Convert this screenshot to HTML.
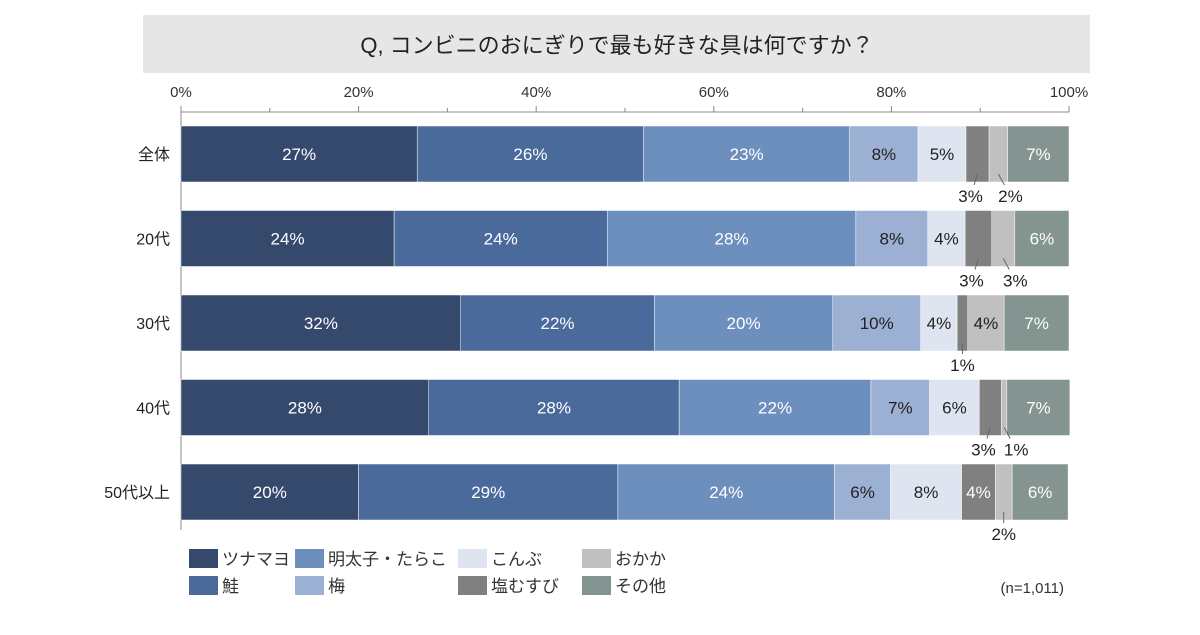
<!DOCTYPE html>
<html><head><meta charset="utf-8"><style>
body{margin:0;background:#fff;width:1200px;height:630px;overflow:hidden;font-family:"Liberation Sans","Noto Sans CJK JP",sans-serif;}
svg text{font-family:"Liberation Sans","Noto Sans CJK JP",sans-serif;}
</style></head><body>
<svg id="chart" width="1200" height="630" xmlns="http://www.w3.org/2000/svg">
<rect x="143" y="15" width="947" height="58" fill="#e6e6e6"/>
<text x="617" y="53" font-size="22" text-anchor="middle" fill="#222">Q, コンビニのおにぎりで最も好きな具は何ですか？</text>
<g id="axis"></g><g id="bars"></g><g id="legend"></g>
<text x="1064" y="593" font-size="15" text-anchor="end" fill="#333">(n=1,011)</text>
</svg>
<script>
const categories = ["全体","20代","30代","40代","50代以上"];
const seriesNames = ["ツナマヨ","鮭","明太子・たらこ","梅","こんぶ","塩むすび","おかか","その他"];
const tsunamayo = [26.6,24.0,31.5,27.9,20.0];
const sake = [25.5,24.0,21.8,28.2,29.2];
const mentaiko = [23.2,28.0,20.1,21.6,24.4];
const ume = [7.7,8.1,9.9,6.6,6.3];
const konbu = [5.4,4.2,4.1,5.6,8.0];
const shio = [2.6,3.0,1.2,2.5,3.8];
const okaka = [2.1,2.6,4.1,0.6,1.9];
const other = [6.9,6.1,7.3,7.1,6.3];
const tickLabels = ["0%","20%","40%","60%","80%","100%"];
const series = [tsunamayo,sake,mentaiko,ume,konbu,shio,okaka,other];
const colors = ["#34496b","#4a6a9c","#6d8fbe","#9bb0d3","#dfe5f0","#808080","#c0c0c0","#849490"];
const textCol = ["#fff","#fff","#fff","#222","#222","#fff","#222","#fff"];
const NS="http://www.w3.org/2000/svg";
const X0=181,X1=1069,rowY0=126,rowStep=84.5,barH=56;
const xs=v=>X0+(X1-X0)*v/100;
const ys=i=>rowY0+i*rowStep;
function mk(tag,attrs,parent,txt){const e=document.createElementNS(NS,tag);for(const k in attrs)e.setAttribute(k,attrs[k]);if(txt!==undefined)e.textContent=txt;parent.appendChild(e);return e;}
const ax=document.getElementById('axis');
let l=mk('line',{x1:X0,y1:112,x2:X1,y2:112,stroke:'#888','stroke-width':1},ax);


l=mk('line',{x1:X0,y1:112,x2:X0,y2:530,stroke:'#888','stroke-width':1},ax);


for(let t=0;t<=10;t++){
  const tk=mk('line',{x1:xs(t*10),y1:t%2?108:106,x2:xs(t*10),y2:112,stroke:'#888'},ax);
  
  
}
tickLabels.forEach((s,i)=>{
  const t=mk('text',{x:xs(i*20),y:97,'font-size':15,'text-anchor':'middle',fill:'#333'},ax,s);
  
  
});
const bars=document.getElementById('bars');
categories.forEach((c,i)=>{
  const y=ys(i);
  const cl=mk('text',{x:170,y:y+barH/2+6,'font-size':16,'text-anchor':'end',fill:'#222'},bars,c);
  
  
  let cum=0;const small=[];
  series.forEach((s,k)=>{
    const v=s[i];const xa=xs(cum),xb=xs(cum+v);cum+=v;
    const r=mk('rect',{x:xa,y:y,width:Math.max(0,xb-xa),height:barH,fill:colors[k],stroke:'#fff','stroke-width':0.5},bars);
    
    
    const lab=Math.round(v)+'%';
    if(Math.round(v)<=3){small.push({k,cx:(xa+xb)/2,lab});}
    else{
      const t=mk('text',{x:(xa+xb)/2,y:y+barH/2+6,'font-size':17,'text-anchor':'middle',fill:textCol[k]},bars,lab);
      
      
    }
  });
  small.forEach((o,j)=>{
    let off=0;if(small.length>1){off=j===0?-7:12;}
    const lx=o.cx+off;
    const ln=mk('line',{x1:o.cx,y1:y+barH-8,x2:o.cx+off*0.5,y2:y+barH+3,stroke:'#666'},bars);
    
    
    const t=mk('text',{x:lx,y:y+barH+20,'font-size':17,'text-anchor':'middle',fill:'#222'},bars,o.lab);
    
    
  });
});
const lg=document.getElementById('legend');
const lpos=[[189,549],[189,576],[295,549],[295,576],[458,549],[458,576],[582,549],[582,576]];
seriesNames.forEach((n,k)=>{
  const [x,y]=lpos[k];
  const g=mk('g',{},lg);
  
  
  mk('rect',{x:x,y:y,width:29,height:19,fill:colors[k]},g);
  mk('text',{x:x+33,y:y+16,'font-size':17,fill:'#333'},g,n);
});
</script>
</body></html>
